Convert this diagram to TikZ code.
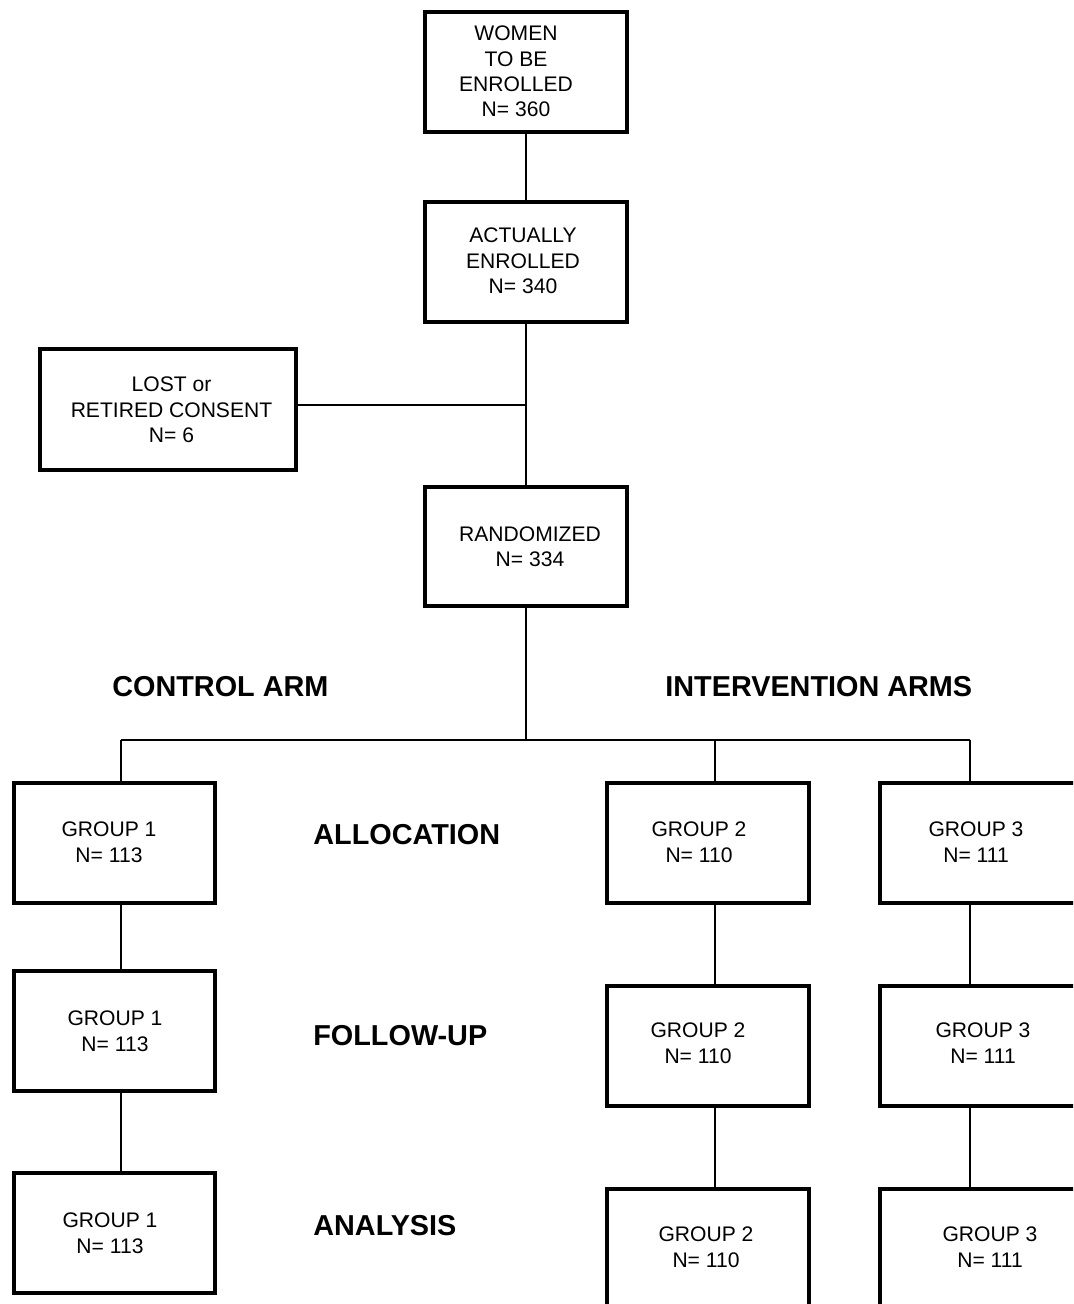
\documentclass[tikz,border=0pt]{standalone}
\usepackage{fontspec}
\setmainfont{Liberation Sans}
\begin{document}
\begin{tikzpicture}[x=0.02cm,y=-0.02cm,
  box/.style={draw, line width=0.08cm, minimum width=4.04cm, minimum height=2.4cm, inner sep=0pt, outer sep=0pt},
  btxt/.style={align=center, font=\fontsize{12}{14.5}\selectfont, inner sep=0pt},
  lbl/.style={font=\fontsize{16.4}{19}\selectfont\bfseries, anchor=west, inner sep=0pt},
  conn/.style={line width=0.03cm}]
\useasboundingbox (0,0) rectangle (1073,1304);
\clip (0,0) rectangle (1073,1304);
\fill[white] (0,0) rectangle (1073,1304);

% top column
\node[box] (A) at (526,72) {};
\node[btxt] (At) at (516,71.5) {WOMEN\\TO BE\\ENROLLED\\N= 360};
\node[box] (B) at (526,262) {};
\node[btxt] (Bt) at (523,261) {ACTUALLY\\ENROLLED\\N= 340};
\node[box, minimum width=5.12cm, minimum height=2.42cm] (L) at (168,409.5) {};
\node[btxt] (Lt) at (171.5,410) {LOST or\\RETIRED CONSENT\\N= 6};
\node[box] (R) at (526,546.5) {};
\node[btxt] (Rt) at (530,546.5) {RANDOMIZED\\N= 334};

% arm labels
\node[lbl] (ctl) at (112,687) {CONTROL ARM};
\node[lbl] (intv) at (665,687) {INTERVENTION ARMS};
\node[lbl] (alloc) at (313,835) {ALLOCATION};
\node[lbl] (fup) at (313,1036) {FOLLOW-UP};
\node[lbl] (ana) at (313,1226) {ANALYSIS};

% group boxes
\node[box] (G1a) at (114.5,843) {};
\node[btxt] (G1at) at (109,842) {GROUP 1\\N= 113};
\node[box] (G1f) at (114.5,1031) {};
\node[btxt] (G1ft) at (115,1031) {GROUP 1\\N= 113};
\node[box] (G1n) at (114.5,1233) {};
\node[btxt] (G1nt) at (110,1233) {GROUP 1\\N= 113};

\node[box] (G2a) at (708,843) {};
\node[btxt] (G2at) at (699,842) {GROUP 2\\N= 110};
\node[box] (G2f) at (708,1046) {};
\node[btxt] (G2ft) at (698,1043) {GROUP 2\\N= 110};
\node[box] (G2n) at (708,1249) {};
\node[btxt] (G2nt) at (706,1247) {GROUP 2\\N= 110};

\node[box] (G3a) at (981,843) {};
\node[btxt] (G3at) at (976,842) {GROUP 3\\N= 111};
\node[box] (G3f) at (981,1046) {};
\node[btxt] (G3ft) at (983,1043) {GROUP 3\\N= 111};
\node[box] (G3n) at (981,1249) {};
\node[btxt] (G3nt) at (990,1247) {GROUP 3\\N= 111};

% connectors
\coordinate (lj) at (526,405);
\coordinate (split) at (526,740);
\coordinate (c1) at (121,740);
\coordinate (c2) at (715,740);
\coordinate (c3) at (970,740);
\draw[conn] (A.south) -- (B.north);
\draw[conn] (B.south) -- (R.north);
\draw[conn] (L.east |- lj) -- (lj);
\draw[conn] (R.south) -- (split);
\draw[conn] (c1) -- (c3);
\draw[conn] (c1) -- (c1 |- G1a.north);
\draw[conn] (c2) -- (c2 |- G2a.north);
\draw[conn] (c3) -- (c3 |- G3a.north);
\draw[conn] (c1 |- G1a.south) -- (c1 |- G1f.north);
\draw[conn] (c1 |- G1f.south) -- (c1 |- G1n.north);
\draw[conn] (c2 |- G2a.south) -- (c2 |- G2f.north);
\draw[conn] (c2 |- G2f.south) -- (c2 |- G2n.north);
\draw[conn] (c3 |- G3a.south) -- (c3 |- G3f.north);
\draw[conn] (c3 |- G3f.south) -- (c3 |- G3n.north);
\end{tikzpicture}
\end{document}
